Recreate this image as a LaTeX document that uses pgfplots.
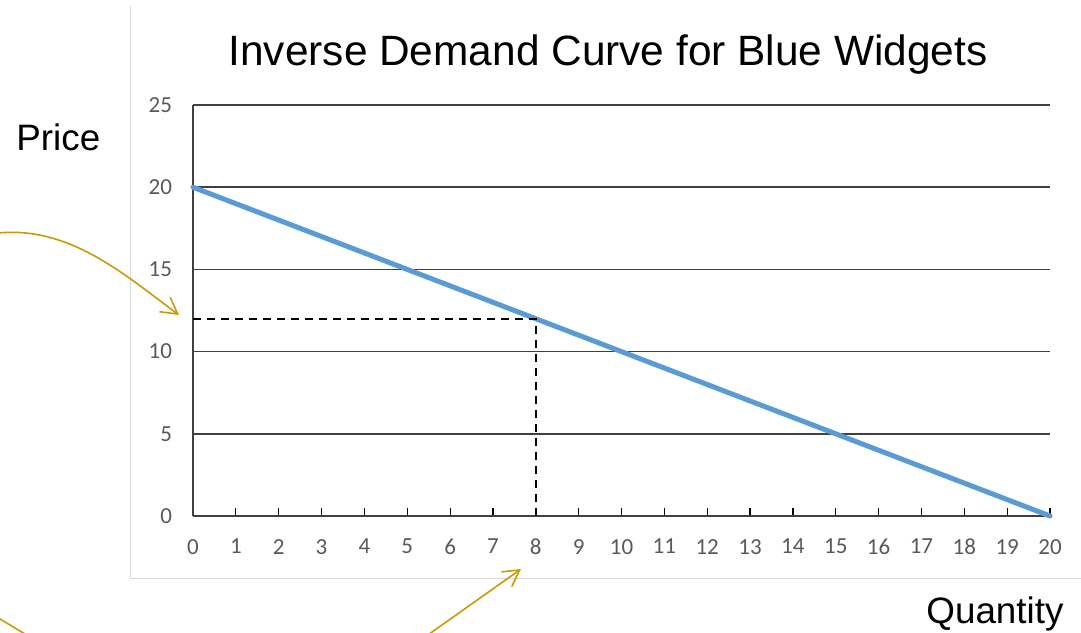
\documentclass[border=0pt]{standalone}
\usepackage{fontspec}
\setmainfont{Liberation Sans}
\newfontfamily\carlito{Carlito}
\usepackage{pgfplots}
\pgfplotsset{compat=1.18}
\usetikzlibrary{arrows.meta}

\definecolor{demandblue}{HTML}{5B9BD5}
\definecolor{tickgray}{HTML}{595959}
\definecolor{gridgray}{HTML}{404040}
\definecolor{framegray}{HTML}{D9D9D9}
\definecolor{arrowgold}{HTML}{C99A06}

\begin{document}
\begin{tikzpicture}
\useasboundingbox (0,0) rectangle (540.5pt,-316pt);
\begin{axis}[
  at={(96.5pt,-258pt)}, anchor=south west,
  scale only axis, width=428.5pt, height=205.5pt,
  xmin=0, xmax=20, ymin=0, ymax=25,
  xtick={0,...,20}, ytick={0,5,...,25},
  axis lines*=left,
  axis line style={gridgray, line width=0.85pt},
  ymajorgrids, grid style={gridgray, line width=0.85pt},
  ytick style={draw=none},
  xtick style={black, line width=0.6pt},
  tick align=inside, major tick length=4pt,
  ticklabel style={font=\carlito\fontsize{11.5}{13}\selectfont, text=tickgray},
  /pgf/number format/assume math mode=true,
  yticklabel style={xshift=-7pt},
  xticklabel style={yshift=-8pt},
  clip=false,
]
% demand: P = 20 - Q
\addplot[demandblue, line width=2.5pt, line cap=round] coordinates {
  (0,20) (1,19) (2,18) (3,17) (4,16) (5,15) (6,14) (7,13) (8,12) (9,11) (10,10)
  (11,9) (12,8) (13,7) (14,6) (15,5) (16,4) (17,3) (18,2) (19,1) (20,0)
};
% reading off Q = 8, P = 12
\addplot[black, line width=1pt, dash pattern=on 4pt off 3pt] coordinates {
  (0,12) (8,12) (8,0)
};
\end{axis}
% annotations, in pixel units from the top left corner
\begin{scope}[x=0.5pt, y=-0.5pt]
  \clip (0,0) rectangle (1081,632);
  \draw[framegray, line width=0.75pt] (130.5,6) -- (130.5,578.5) -- (1085,578.5);
  \node[anchor=base, inner sep=0, font=\fontsize{21.2}{25}\selectfont] at (608,65)
    {Inverse Demand Curve for Blue Widgets};
  \node[anchor=base west, inner sep=0, font=\fontsize{18.4}{22}\selectfont] at (16,150) {Price};
  \node[anchor=base west, inner sep=0, font=\fontsize{18.4}{22}\selectfont] at (926,623) {Quantity};
  \begin{scope}[arrowgold, line width=0.8pt]
    \draw[-{Straight Barb[length=8pt,width=9pt]}]
      (-2,233) .. controls (70,226) and (125,275) .. (179,315);
    \draw (-10,613) -- (30,637);
    \draw[-{Straight Barb[length=8pt,width=9pt]}] (425,637) -- (521,569);
  \end{scope}
\end{scope}
\end{tikzpicture}
\end{document}
